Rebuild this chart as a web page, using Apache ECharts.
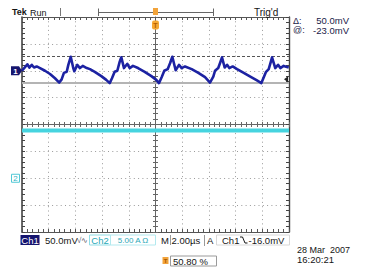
<!DOCTYPE html>
<html><head><meta charset="utf-8">
<script src="https://cdn.jsdelivr.net/npm/echarts@6/dist/echarts.min.js"></script>
<style>html,body{margin:0;padding:0;background:#fff;}#c{width:365px;height:269px;}</style>
</head><body><div id="c"></div>
<script>
const ch1Time = [-10.00,-9.60,-9.45,-9.27,-9.10,-8.90,-8.65,-8.28,-7.90,-7.53,-7.21,-7.03,-6.86,-6.65,-6.53,-6.35,-6.16,-6.08,-5.86,-5.66,-5.45,-5.15,-4.91,-4.55,-4.06,-3.69,-3.43,-3.26,-3.06,-2.86,-2.68,-2.56,-2.36,-2.11,-1.93,-1.69,-1.31,-0.81,-0.31,0.06,0.26,0.46,0.66,0.91,1.09,1.26,1.51,1.76,1.96,2.21,2.71,3.21,3.71,4.08,4.33,4.46,4.70,4.83,4.98,5.18,5.36,5.53,5.78,6.11,6.61,7.10,7.60,7.93,8.11,8.28,8.48,8.61,8.73,8.97,9.18,9.35,9.60,9.98];
const ch1Volt = [0,12,6,11,6,8,5,0,-6,-14,-22,-16,-4,-2,11,26,5,-1,11,5,9,5,3,-2,-10,-17,-23,-14,-2,0,17,25,5,13,5,9,5,-2,-10,-17,-23,-12,0,3,14,26,1,11,5,8,3,-4,-12,-22,-11,0,5,14,25,6,11,5,8,3,-4,-11,-18,-23,-12,-2,3,14,25,5,11,5,9,6];
// Channel 2 trace: time (µs) and current (A)
const ch2Time = [-10,-8,-6,-4,-2,0,2,4,6,8,10];
const ch2Amp = [8.9,8.9,8.9,8.9,8.9,8.9,8.9,8.9,8.9,8.9,8.9];
// Cursors (mV) and trigger
const cursorLevels = [27, -23];
const triggerLevel = -16;
const triggerTime = 0;

const ch1Data = ch1Time.map((t, i) => [t, ch1Volt[i]]);
const ch2Data = ch2Time.map((t, i) => [t, ch2Amp[i]]);

const chart = echarts.init(document.getElementById('c'), null, {renderer: 'svg', width: 365, height: 269});
const FF = '"Liberation Sans", Arial, sans-serif';
const dotted = {show: true, lineStyle: {color: '#9a9a9a', width: 1, type: [1, 3.3]}};
const none = {show: false};
function ax(o) {
  return {
    type: 'value', min: o.min, max: o.max, interval: o.interval,
    position: o.position, offset: o.offset || 0,
    axisLabel: none, splitLine: o.split ? dotted : none,
    axisLine: {show: o.line !== false, onZero: false, lineStyle: {color: o.color || '#555', width: o.lw || 1}},
    axisTick: {show: true, inside: o.inside, length: o.tl || 3, lineStyle: {color: o.color || '#555'}},
    minorTick: {show: true, splitNumber: 5, length: o.tl || 3, lineStyle: {color: o.color || '#555'}},
    minorSplitLine: none
  };
}
const xr = {min: -10, max: 10, interval: 2};
const yr = {min: -4, max: 4, interval: 1};
chart.setOption({
  animation: false,
  backgroundColor: '#ffffff',
  grid: {left: 22, top: 17, width: 267, height: 215, containLabel: false, outerBoundsMode: 'none'},
  xAxis: [
    ax(Object.assign({position: 'bottom', inside: true, split: true, lw: 1.2}, xr)),
    ax(Object.assign({position: 'top', inside: true}, xr)),
    ax(Object.assign({position: 'bottom', offset: -107.5, inside: true, tl: 2.5, color: '#666'}, xr)),
    ax(Object.assign({position: 'bottom', offset: -107.5, inside: false, tl: 2.5, line: false, color: '#666'}, xr))
  ],
  yAxis: [
    ax(Object.assign({position: 'left', inside: true, split: true, lw: 1.6, color: '#444'}, yr)),
    ax(Object.assign({position: 'right', inside: true, lw: 1.4, color: '#444'}, yr)),
    ax(Object.assign({position: 'left', offset: -133.5, inside: true, tl: 2.5, color: '#666'}, yr)),
    ax(Object.assign({position: 'left', offset: -133.5, inside: false, tl: 2.5, line: false, color: '#666'}, yr)),
    {type: 'value', min: -300, max: 100, interval: 50, show: false},
    {type: 'value', min: -10, max: 30, interval: 5, show: false}
  ],
  series: [
    {
      type: 'line', name: 'cursors', xAxisIndex: 0, yAxisIndex: 4, data: [], z: 2,
      markLine: {
        silent: true, symbol: 'none', label: {show: false}, animation: false,
        data: [
          {yAxis: cursorLevels[0], lineStyle: {type: [3, 2], color: '#555', width: 1}},
          {yAxis: cursorLevels[1], lineStyle: {type: 'solid', color: '#b4b4b4', width: 2}}
        ]
      }
    },
    {
      type: 'line', name: 'Ch2', xAxisIndex: 0, yAxisIndex: 5, data: ch2Data, z: 3,
      showSymbol: false, lineStyle: {color: '#46d4df', width: 4}
    },
    {
      type: 'line', name: 'Ch1', xAxisIndex: 0, yAxisIndex: 4, data: ch1Data, z: 5,
      showSymbol: false, lineStyle: {color: '#1c22a2', width: 2.6, join: 'round'}
    }
  ]
});

const xT = chart.convertToPixel({xAxisIndex: 0}, triggerTime);
const y1 = chart.convertToPixel({yAxisIndex: 4}, 0);
const y2 = chart.convertToPixel({yAxisIndex: 5}, 0);
const yTrig = chart.convertToPixel({yAxisIndex: 4}, triggerLevel);

function T(x, y, text, o) {
  o = o || {};
  return {type: 'text', x: x, y: y, z: 50, silent: true, style: {
    text: text, fill: o.fill || '#151515',
    font: (o.weight || 'normal') + ' ' + (o.size || 9.5) + 'px ' + FF,
    textAlign: o.align || 'left', textVerticalAlign: 'middle', verticalAlign: 'middle'
  }};
}
function L(x1, y1_, x2, y2_, c, w) {
  return {type: 'line', z: 40, silent: true, shape: {x1: x1, y1: y1_, x2: x2, y2: y2_}, style: {stroke: c || '#666', lineWidth: w || 1}};
}
function R(x, y, w, h, fill, stroke, r) {
  return {type: 'rect', z: 40, silent: true, shape: {x: x, y: y, width: w, height: h, r: r || 0}, style: {fill: fill || 'none', stroke: stroke || null, lineWidth: 1}};
}
const rowY = 240, row2Y = 261;
chart.setOption({
  graphic: [
    T(12, 12, 'Tek', {weight: 'bold', size: 9}),
    T(30, 12.5, 'Run', {size: 9}),
    L(60.5, 8, 60.5, 16, '#777'),
    L(98.5, 8.5, 98.5, 16, '#666'),
    L(98.5, 12.5, 213.5, 12.5, '#666'),
    L(213.5, 8.5, 213.5, 16, '#666'),
    R(xT - 2.5, 8, 5, 7, '#f2a33a'),
    R(xT - 3.5, 20.5, 7, 9, '#f5a733', null, 2),
    T(xT, 25.2, 'T', {size: 7, weight: 'bold', fill: '#b35e00', align: 'center'}),
    T(254, 12.5, "Trig'd", {size: 10}),
    T(293, 20.5, 'Δ:', {size: 9, fill: '#1a1a48'}),
    T(349, 20.5, '50.0mV', {size: 9.5, fill: '#1a1a48', align: 'right'}),
    T(293, 30, '@:', {size: 9, fill: '#1a1a48'}),
    T(349, 30, '-23.0mV', {size: 9.5, fill: '#1a1a48', align: 'right'}),
    {type: 'polygon', z: 40, silent: true, shape: {points: [[11, y1 - 4.5], [19, y1 - 4.5], [22, y1], [19, y1 + 4.5], [11, y1 + 4.5]]}, style: {fill: '#16166e'}},
    T(15.5, y1 + 0.5, '1', {size: 8, weight: 'bold', fill: '#ffffff', align: 'center'}),
    R(11.5, y2 - 4, 8, 8, '#ffffff', '#52c9d6'),
    T(15.5, y2 + 0.5, '2', {size: 8, fill: '#2fb3c2', align: 'center'}),
    {type: 'polygon', z: 40, silent: true, shape: {points: [[284, yTrig], [288, yTrig - 3], [288, yTrig + 3]]}, style: {fill: '#222'}},
    R(20.5, rowY - 5, 19, 10, '#14146e'),
    T(30, rowY, 'Ch1', {fill: '#ffffff', align: 'center'}),
    T(45, rowY, '50.0mV'),
    T(77, rowY, '√∿', {size: 8, fill: '#556'}),
    R(89.5, rowY - 5, 21, 10, '#ffffff', '#8fdde6'),
    T(100, rowY, 'Ch2', {fill: '#27a8b7', align: 'center'}),
    R(110.5, rowY - 5, 45, 10, '#ffffff', '#b2e9ef'),
    T(133, rowY, '5.00 A Ω', {size: 8, fill: '#2aa8b8', align: 'center'}),
    T(161, rowY, 'M'),
    L(170.5, rowY - 5, 170.5, rowY + 5, '#999'),
    T(171.5, rowY, '2.00µs'),
    L(204.5, rowY - 5, 204.5, rowY + 6, '#999'),
    T(207, rowY, 'A'),
    R(216.5, rowY - 5, 73, 10, null, '#d8d8d8'),
    T(222, rowY, 'Ch1'),
    {type: 'polyline', z: 40, silent: true, shape: {points: [[240, rowY - 3], [242.5, rowY - 3], [245, rowY + 3], [247.5, rowY + 3]]}, style: {stroke: '#151515', lineWidth: 1, fill: null}},
    T(248.5, rowY, '-16.0mV'),
    R(162.5, row2Y - 4, 6, 7, '#f2a33a'),
    T(165.5, row2Y - 0.3, 'T', {size: 6, weight: 'bold', fill: '#a65800', align: 'center'}),
    R(170.5, row2Y - 5, 46, 10, null, '#9a9a9a'),
    T(173, row2Y, '50.80 %'),
    T(297, 250, '28 Mar  2007', {size: 9}),
    T(297, 259, '16:20:21', {size: 9.5})
  ]
});
</script>
</body></html>
